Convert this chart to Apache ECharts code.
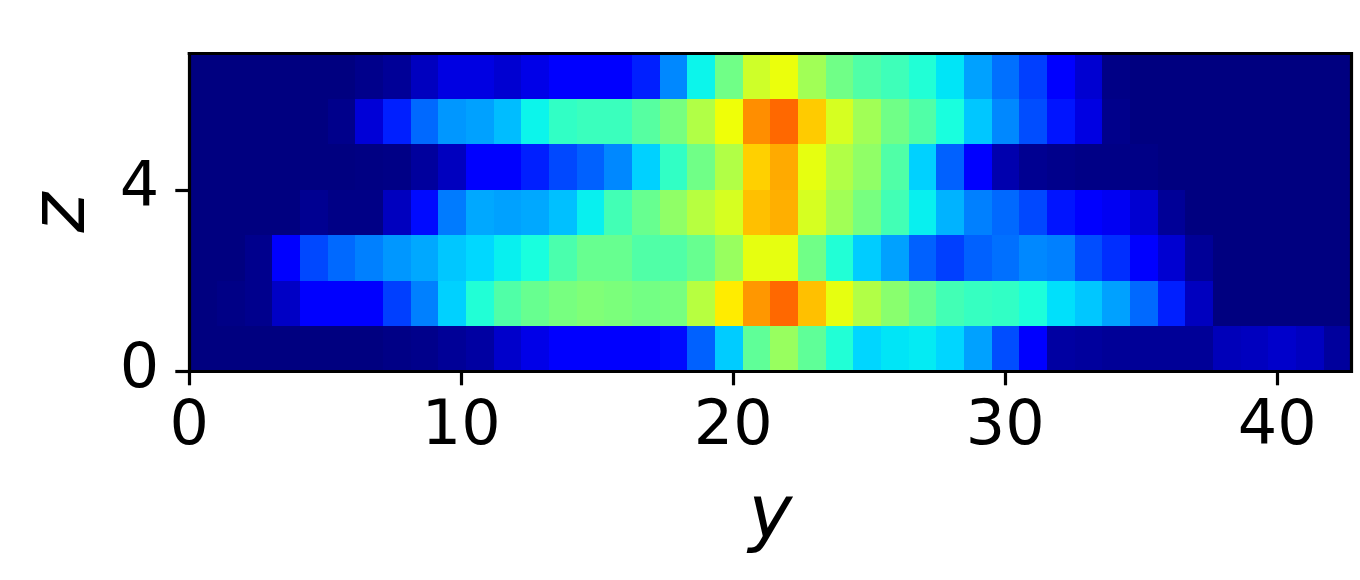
<!DOCTYPE html>
<html>
<head>
<meta charset="utf-8">
<style>html,body{margin:0;padding:0;background:#fff}#c{width:1360px;height:580px}</style>
<script src="https://cdn.jsdelivr.net/npm/echarts@6/dist/echarts.min.js"></script>
</head>
<body>
<div id="c"></div>
<script>
const xTicks = [0, 10, 20, 30, 40];
const zTicks = [0, 4];
const row0 = [0,0,0,0,0,0,0,.005,.01,.02,.03,.065,.09,.115,.115,.115,.115,.135,.22,.325,.465,.535,.465,.39,.335,.35,.355,.335,.283,.2,.115,.03,.025,.02,.02,.02,.02,.05,.055,.065,.055,.025];
const row1 = [0,.005,.012,.06,.115,.115,.115,.187,.25,.33,.39,.447,.475,.495,.505,.5,.49,.495,.573,.66,.75,.8,.707,.63,.565,.516,.475,.43,.415,.41,.385,.345,.32,.283,.228,.155,.055,0,0,0,0,0];
const row2 = [0,0,.012,.115,.195,.228,.25,.273,.29,.32,.337,.36,.38,.44,.475,.475,.447,.447,.475,.535,.63,.63,.486,.39,.325,.283,.22,.187,.22,.235,.258,.25,.2,.17,.12,.07,.02,0,0,0,0,0];
const row3 = [0,0,0,0,.015,.005,.005,.055,.135,.245,.29,.283,.29,.313,.36,.43,.475,.525,.573,.61,.707,.725,.61,.545,.495,.43,.36,.3,.25,.228,.195,.145,.12,.1,.07,.02,0,0,0,0,0,0];
const row4 = [0,0,0,0,0,0,.003,.005,.025,.055,.115,.12,.155,.195,.22,.258,.33,.41,.486,.565,.69,.73,.63,.565,.525,.447,.33,.22,.12,.04,.015,.01,.005,.005,.005,0,0,0,0,0,0,0];
const row5 = [0,0,0,0,0,.01,.075,.155,.228,.273,.283,.31,.365,.41,.42,.42,.455,.495,.565,.64,.76,.8,.695,.61,.545,.486,.447,.38,.32,.258,.2,.145,.085,.01,0,0,0,0,0,0,0,0];
const row6 = [0,0,0,0,0,0,.01,.02,.055,.085,.085,.07,.09,.115,.115,.12,.155,.258,.365,.486,.6,.635,.545,.486,.447,.425,.39,.35,.283,.235,.187,.12,.07,.005,0,0,0,0,0,0,0,0];
const rows = [row0, row1, row2, row3, row4, row5, row6];

const xMax = 42.72, zMax = 7.01;
const cellW = xMax / row0.length, cellH = zMax / rows.length;

const cells = [];
rows.forEach((r, j) => r.forEach((v, i) => cells.push([i, j, v])));

// matplotlib "jet" colormap breakpoints
function seg(t, pts) {
  for (let k = 1; k < pts.length; k++) {
    if (t <= pts[k][0]) {
      const [a, u] = pts[k - 1], [b, w] = pts[k];
      return u + (w - u) * (t - a) / (b - a);
    }
  }
  return pts[pts.length - 1][1];
}
const R = [[0,0],[.35,0],[.66,1],[.89,1],[1,.5]];
const G = [[0,0],[.125,0],[.375,1],[.64,1],[.91,0],[1,0]];
const B = [[0,.5],[.11,1],[.34,1],[.65,0],[1,0]];
const jet = [];
for (let k = 0; k <= 100; k++) {
  const t = k / 100, h = c => Math.round(255 * seg(t, c));
  jet.push(`rgb(${h(R)},${h(G)},${h(B)})`);
}

const FONT = '"DejaVu Sans"';
const line = {show: true, onZero: false, lineStyle: {color: '#000', width: 3.2, cap: 'square'}};
const chart = echarts.init(document.getElementById('c'), null, {renderer: 'canvas'});
chart.setOption({
  animation: false,
  backgroundColor: '#fff',
  grid: {left: 189.3, top: 53.7, width: 1162, height: 317.6},
  xAxis: [{
    type: 'value', min: 0, max: xMax, z: 10, position: 'bottom',
    splitLine: {show: false}, axisLine: line,
    axisTick: {show: true, length: 14, lineStyle: {color: '#000', width: 3.2}, customValues: xTicks},
    axisLabel: {color: '#000', fontFamily: FONT, fontSize: 62, margin: 26, customValues: xTicks, formatter: v => String(v)},
    name: 'y', nameLocation: 'middle', nameGap: 110,
    nameTextStyle: {color: '#000', fontFamily: FONT, fontStyle: 'italic', fontSize: 74}
  }, {
    type: 'value', min: 0, max: xMax, z: 10, position: 'top',
    splitLine: {show: false}, axisLine: line, axisTick: {show: false}, axisLabel: {show: false}
  }],
  yAxis: [{
    type: 'value', min: 0, max: zMax, z: 10, position: 'left',
    splitLine: {show: false}, axisLine: line,
    axisTick: {show: true, length: 14, lineStyle: {color: '#000', width: 3.2}, customValues: zTicks},
    axisLabel: {color: '#000', fontFamily: FONT, fontSize: 62, margin: 30, padding: [5, 0, 0, 0], customValues: zTicks, formatter: v => String(v)},
    name: 'z', nameLocation: 'middle', nameGap: 87, nameRotate: 90,
    nameTextStyle: {color: '#000', fontFamily: FONT, fontStyle: 'italic', fontSize: 76}
  }, {
    type: 'value', min: 0, max: zMax, z: 10, position: 'right',
    splitLine: {show: false}, axisLine: line, axisTick: {show: false}, axisLabel: {show: false}
  }],
  visualMap: {show: false, min: 0, max: 1, dimension: 2, seriesIndex: 0, inRange: {color: jet}},
  series: [{
    type: 'custom',
    coordinateSystem: 'cartesian2d',
    xAxisIndex: 0, yAxisIndex: 0,
    encode: {x: 0, y: 1},
    data: cells,
    clip: true,
    renderItem(params, api) {
      const i = api.value(0), j = api.value(1);
      const a = api.coord([i * cellW, j * cellH]);
      const b = api.coord([(i + 1) * cellW, (j + 1) * cellH]);
      const x0 = Math.round(a[0]), x1 = Math.round(b[0]);
      const y0 = Math.round(b[1]), y1 = Math.round(a[1]);
      return {
        type: 'rect',
        shape: {x: x0, y: y0, width: x1 - x0, height: y1 - y0},
        style: {fill: api.visual('color')}
      };
    }
  }]
});
</script>
</body>
</html>
